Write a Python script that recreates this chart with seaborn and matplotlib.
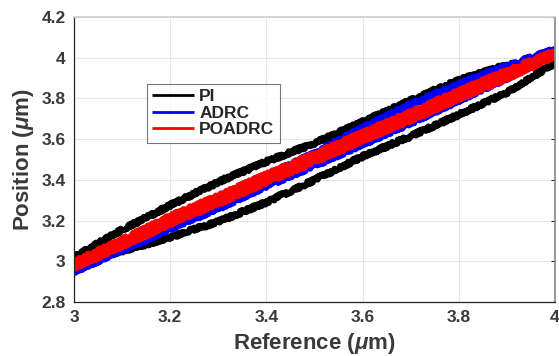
import numpy as np
import pandas as pd
import matplotlib
matplotlib.use("Agg")
import matplotlib.pyplot as plt
import seaborn as sns

# ---- data ----
ref_x = [3.0, 3.1, 3.2, 3.3, 3.4, 3.5, 3.6, 3.7, 3.8, 3.9, 4.0]
pi_lower = [2.985, 3.05, 3.118, 3.195, 3.29, 3.40, 3.515, 3.615, 3.72, 3.83, 3.975]
pi_upper = [3.02, 3.155, 3.275, 3.39, 3.49, 3.58, 3.685, 3.79, 3.89, 3.965, 4.01]
adrc_lower = [2.95, 3.055, 3.16, 3.26, 3.37, 3.47, 3.575, 3.68, 3.79, 3.90, 4.03]
adrc_upper = [2.96, 3.07, 3.19, 3.30, 3.42, 3.53, 3.655, 3.77, 3.87, 3.96, 4.04]
po_lower = [2.97, 3.075, 3.185, 3.285, 3.39, 3.49, 3.595, 3.695, 3.80, 3.90, 4.01]
po_upper = [2.995, 3.105, 3.22, 3.32, 3.425, 3.525, 3.63, 3.73, 3.835, 3.935, 4.03]

series_names = ["PI", "ADRC", "POADRC"]
colors = ["#000000", "#0000ff", "#ff0000"]
xticks = [3, 3.2, 3.4, 3.6, 3.8, 4]
xtick_labels = ["3", "3.2", "3.4", "3.6", "3.8", "4"]
yticks = [2.8, 3, 3.2, 3.4, 3.6, 3.8, 4, 4.2]
ytick_labels = ["2.8", "3", "3.2", "3.4", "3.6", "3.8", "4", "4.2"]

branches = {"PI": (pi_lower, pi_upper),
            "ADRC": (adrc_lower, adrc_upper),
            "POADRC": (po_lower, po_upper)}
rows = []
for name in series_names:
    lo, up = branches[name]
    xs = list(ref_x) + list(ref_x[::-1])
    ys = list(lo) + list(up[::-1])
    for i, (a, b) in enumerate(zip(xs, ys)):
        rows.append({"Controller": name, "Reference": a, "Position": b, "order": i})
df = pd.DataFrame(rows)

sns.set_theme(style="white")
plt.rcParams["font.family"] = ["Liberation Sans", "DejaVu Sans"]
plt.rcParams["font.weight"] = "bold"
plt.rcParams["mathtext.fontset"] = "custom"
plt.rcParams["mathtext.it"] = "Liberation Sans:italic:bold"
plt.rcParams["mathtext.rm"] = "Liberation Sans:bold"

fig = plt.figure(figsize=(5.59, 3.56), dpi=100)
ax = fig.add_axes([0.1324, 0.1517, 0.8604, 0.8003])

sns.lineplot(data=df, x="Reference", y="Position", hue="Controller",
             hue_order=series_names, palette=colors, sort=False,
             estimator=None, units="Controller", linewidth=4.3, ax=ax)
for line in ax.lines:
    line.set_sketch_params(scale=1.8, length=1.5, randomness=3.0)
    line.set_solid_capstyle("butt")

ax.set_xlim(3, 4)
ax.set_ylim(2.8, 4.2)
ax.set_xticks(xticks)
ax.set_xticklabels(xtick_labels)
ax.set_yticks(yticks)
ax.set_yticklabels(ytick_labels)
ax.grid(True, color="#e6e6e6", linewidth=0.8)
ax.set_axisbelow(True)
ax.tick_params(direction="in", length=3, width=0.8, colors="#262626",
               labelsize=12.5, pad=6, right=True, top=False)
for lab in ax.get_xticklabels() + ax.get_yticklabels():
    lab.set_fontweight("bold")
    lab.set_color("#3a3a3a")
for s in ["left", "bottom"]:
    ax.spines[s].set_color("#262626")
    ax.spines[s].set_linewidth(0.9)
ax.spines["right"].set_color("#8a8a8a")
ax.spines["top"].set_color("#d0d0d0")
ax.set_xlabel(r"Reference ($\mu$m)", fontsize=16, fontweight="bold",
              color="#3a3a3a", labelpad=4)
ax.set_ylabel(r"Position ($\mu$m)", fontsize=16, fontweight="bold",
              color="#3a3a3a", labelpad=4)

handles, labels = ax.get_legend_handles_labels()
leg = ax.legend(handles, labels, loc="upper left", bbox_to_anchor=(0.152, 0.765),
                borderaxespad=0, frameon=True, fancybox=False, handlelength=2.4,
                handletextpad=0.3, labelspacing=0.08, borderpad=0.3,
                prop={"weight": "bold", "size": 12.5})
leg.get_frame().set_edgecolor("#555555")
leg.get_frame().set_linewidth(0.8)
for h in leg.get_lines():
    h.set_linewidth(2.0)
    h.set_sketch_params(None)

fig.savefig("out.png", dpi=100)
